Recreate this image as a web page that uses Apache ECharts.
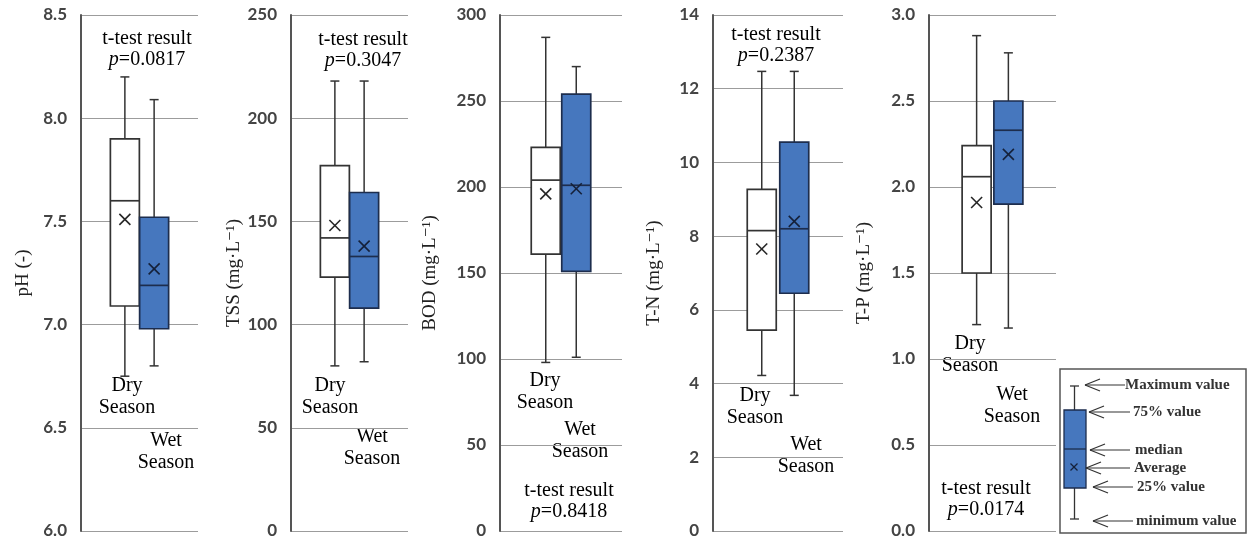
<!DOCTYPE html>
<html>
<head>
<meta charset="utf-8">
<title>Dry / wet season water quality</title>
<script src="https://cdn.jsdelivr.net/npm/echarts@6/dist/echarts.min.js"></script>
<style>
    html, body { margin: 0; padding: 0; background: #fff; }
    #main { width: 1253px; height: 542px; }
</style>
</head>
<body>
<div id="main"></div>
<script>
// x 轴类别，两端的空类别只用来把箱子挤到中间
var categories = ['', 'Dry Season', 'Wet Season', ''];

// 每个季节: [最小值, 25%, 中位数, 75%, 最大值]，平均值单独放
var phDry = [6.75, 7.09, 7.60, 7.90, 8.20];
var phWet = [6.80, 6.98, 7.19, 7.52, 8.09];
var phMean = [7.51, 7.27];

var tssDry = [80, 123, 142, 177, 218];
var tssWet = [82, 108, 133, 164, 218];
var tssMean = [148, 138];

var bodDry = [98, 161, 204, 223, 287];
var bodWet = [101, 151, 201, 254, 270];
var bodMean = [196, 199];

var tnDry = [4.22, 5.45, 8.15, 9.27, 12.47];
var tnWet = [3.68, 6.45, 8.20, 10.55, 12.47];
var tnMean = [7.65, 8.40];

var tpDry = [1.20, 1.50, 2.06, 2.24, 2.88];
var tpWet = [1.18, 1.90, 2.33, 2.50, 2.78];
var tpMean = [1.91, 2.19];

var axisNames = ['pH (-)', 'TSS (mg·L⁻¹)', 'BOD (mg·L⁻¹)', 'T-N (mg·L⁻¹)', 'T-P (mg·L⁻¹)'];
var pValues = ['0.0817', '0.3047', '0.8418', '0.2387', '0.0174'];
var yMins = [6.0, 0, 0, 0, 0];
var yMaxs = [8.5, 250, 300, 14, 3.0];
var yIntervals = [0.5, 50, 50, 2, 0.5];
var tickDecimals = [1, 0, 0, 0, 1];
var legendLabels = ['Maximum value', '75% value', 'median', 'Average', '25% value', 'minimum value'];

var dryStats = [phDry, tssDry, bodDry, tnDry, tpDry];
var wetStats = [phWet, tssWet, bodWet, tnWet, tpWet];
var means = [phMean, tssMean, bodMean, tnMean, tpMean];

// 版面: 每个小图的位置、轴名距离、文字位置
var panels = [
    {left: 81, width: 117, nameGap: 48, test: [147, 28], dry: [127, 375], wet: [166, 430]},
    {left: 291, width: 117, nameGap: 42, test: [363, 29], dry: [330, 375], wet: [372, 426]},
    {left: 500, width: 122, nameGap: 60, test: [569, 480], dry: [545, 370], wet: [580, 419]},
    {left: 713, width: 130, nameGap: 49, test: [776, 24], dry: [755, 385], wet: [806, 434]},
    {left: 929, width: 127, nameGap: 55, test: [986, 478], dry: [970, 333], wet: [1012, 384]}
];
var GRID_TOP = 15;
var GRID_HEIGHT = 516;
var BOX_W = 29;
var CAP_W = 9;
var MARK = 11;
var SERIF = '"Liberation Serif", "DejaVu Serif", serif';
var INK = '#333333';

// 干季白色箱子，湿季蓝色箱子
var seasonStyle = [
    {fill: '#ffffff', stroke: '#333333', mark: '#262626'},
    {fill: '#4677be', stroke: '#1d2d4d', mark: '#15213a'}
];

/**
 * 画一个箱线图: 须线、端帽、箱体、中位线、平均值的 ×
 */
function renderBox(params, api) {
    var cat = api.value(0);
    var cx = api.coord([cat, 0])[0];
    var y = function (dim) {
        return api.coord([cat, api.value(dim)])[1];
    };
    var yMin = y(1), yQ1 = y(2), yMed = y(3), yQ3 = y(4), yMax = y(5), yAvg = y(6);
    var st = seasonStyle[params.dataIndex];
    var hw = BOX_W / 2, cap = CAP_W / 2, m = MARK / 2;
    var line = function (x1, y1, x2, y2, color, w) {
        return {type: 'line', shape: {x1: x1, y1: y1, x2: x2, y2: y2}, style: {stroke: color, lineWidth: w}};
    };
    return {
        type: 'group',
        children: [
            line(cx, yMax, cx, yMin, INK, 1.5),
            line(cx - cap, yMax, cx + cap, yMax, INK, 1.5),
            line(cx - cap, yMin, cx + cap, yMin, INK, 1.5),
            {
                type: 'rect',
                shape: {x: cx - hw, y: yQ3, width: BOX_W, height: yQ1 - yQ3},
                style: {fill: st.fill, stroke: st.stroke, lineWidth: 1.7}
            },
            line(cx - hw, yMed, cx + hw, yMed, st.stroke, 1.7),
            line(cx - m, yAvg - m, cx + m, yAvg + m, st.mark, 1.6),
            line(cx - m, yAvg + m, cx + m, yAvg - m, st.mark, 1.6)
        ]
    };
}

function textBlock(x, y, rich, text, lineHeight) {
    return {
        type: 'text',
        x: x,
        y: y,
        style: {
            text: text,
            rich: rich,
            align: 'center',
            verticalAlign: 'top',
            lineHeight: lineHeight
        }
    };
}

var grids = [], xAxes = [], yAxes = [], series = [], graphics = [];
var seasonRich = {s: {fontFamily: SERIF, fontSize: 20, color: '#222', lineHeight: 22, align: 'center'}};
var testRich = {
    n: {fontFamily: SERIF, fontSize: 20, color: '#222', lineHeight: 21},
    i: {fontFamily: SERIF, fontSize: 20, fontStyle: 'italic', color: '#222', lineHeight: 21}
};

panels.forEach(function (p, i) {
    grids.push({left: p.left, top: GRID_TOP, width: p.width, height: GRID_HEIGHT});
    xAxes.push({
        type: 'category',
        gridIndex: i,
        data: categories,
        boundaryGap: true,
        show: false
    });
    yAxes.push({
        type: 'value',
        gridIndex: i,
        min: yMins[i],
        max: yMaxs[i],
        interval: yIntervals[i],
        name: axisNames[i],
        nameLocation: 'middle',
        nameGap: p.nameGap,
        nameTextStyle: {fontFamily: SERIF, fontSize: 19, color: '#222'},
        axisLine: {show: true, lineStyle: {color: '#555555', width: 2}},
        axisTick: {show: false},
        axisLabel: {
            margin: 14,
            fontFamily: 'Lato, "Open Sans", sans-serif',
            fontWeight: 'bold',
            fontSize: 17,
            color: '#444444',
            formatter: (function (d) {
                return function (v) { return v.toFixed(d); };
            })(tickDecimals[i])
        },
        splitLine: {show: true, lineStyle: {color: '#9c9c9c', width: 1}}
    });

    var items = [
        [categories.indexOf('Dry Season')].concat(dryStats[i], [means[i][0]]),
        [categories.indexOf('Wet Season')].concat(wetStats[i], [means[i][1]])
    ];
    series.push({
        type: 'custom',
        xAxisIndex: i,
        yAxisIndex: i,
        renderItem: renderBox,
        encode: {x: 0, y: [1, 2, 3, 4, 5, 6]},
        data: items,
        silent: true
    });

    graphics.push(textBlock(p.test[0], p.test[1], testRich,
        '{n|t-test result}\n{i|p}{n|=' + pValues[i] + '}', 21));
    graphics.push(textBlock(p.dry[0], p.dry[1], seasonRich, '{s|Dry}\n{s|Season}', 22));
    graphics.push(textBlock(p.wet[0], p.wet[1], seasonRich, '{s|Wet}\n{s|Season}', 22));
});

// 右下角的图例说明框
function arrow(tipX, y, endX) {
    var c = '#333';
    return [
        {type: 'line', shape: {x1: tipX, y1: y, x2: endX, y2: y}, style: {stroke: c, lineWidth: 1.2}},
        {type: 'line', shape: {x1: tipX, y1: y, x2: tipX + 15, y2: y - 6}, style: {stroke: c, lineWidth: 1.2}},
        {type: 'line', shape: {x1: tipX, y1: y, x2: tipX + 15, y2: y + 6}, style: {stroke: c, lineWidth: 1.2}}
    ];
}

var legendRows = [
    {tip: 1085, y: 385, end: 1125, tx: 1125},
    {tip: 1089, y: 412, end: 1130, tx: 1133},
    {tip: 1090, y: 450, end: 1130, tx: 1135},
    {tip: 1086, y: 468, end: 1130, tx: 1134},
    {tip: 1093, y: 487, end: 1133, tx: 1137},
    {tip: 1093, y: 521, end: 1133, tx: 1136}
];

var legendChildren = [
    {type: 'rect', shape: {x: 1060, y: 369, width: 186, height: 164}, style: {fill: '#fff', stroke: '#555', lineWidth: 1.5}},
    {type: 'line', shape: {x1: 1074.5, y1: 386, x2: 1074.5, y2: 519}, style: {stroke: INK, lineWidth: 1.3}},
    {type: 'line', shape: {x1: 1070, y1: 386, x2: 1079, y2: 386}, style: {stroke: INK, lineWidth: 1.3}},
    {type: 'line', shape: {x1: 1070, y1: 519, x2: 1079, y2: 519}, style: {stroke: INK, lineWidth: 1.3}},
    {type: 'rect', shape: {x: 1064, y: 410, width: 22, height: 78}, style: {fill: '#4677be', stroke: '#1d2d4d', lineWidth: 1.3}},
    {type: 'line', shape: {x1: 1064, y1: 449, x2: 1086, y2: 449}, style: {stroke: '#1d2d4d', lineWidth: 1.3}},
    {type: 'line', shape: {x1: 1070.5, y1: 463.5, x2: 1077.5, y2: 470.5}, style: {stroke: '#15213a', lineWidth: 1.3}},
    {type: 'line', shape: {x1: 1070.5, y1: 470.5, x2: 1077.5, y2: 463.5}, style: {stroke: '#15213a', lineWidth: 1.3}}
];
legendRows.forEach(function (r, k) {
    legendChildren = legendChildren.concat(arrow(r.tip, r.y, r.end));
    legendChildren.push({
        type: 'text',
        x: r.tx,
        y: r.y,
        style: {
            text: legendLabels[k],
            fontFamily: SERIF,
            fontSize: 15,
            fontWeight: 'bold',
            fill: '#333',
            align: 'left',
            verticalAlign: 'middle'
        }
    });
});
graphics.push({type: 'group', children: legendChildren});

var chart = echarts.init(document.getElementById('main'));
chart.setOption({
    animation: false,
    backgroundColor: '#fff',
    grid: grids,
    xAxis: xAxes,
    yAxis: yAxes,
    series: series,
    graphic: graphics
});
</script>
</body>
</html>
